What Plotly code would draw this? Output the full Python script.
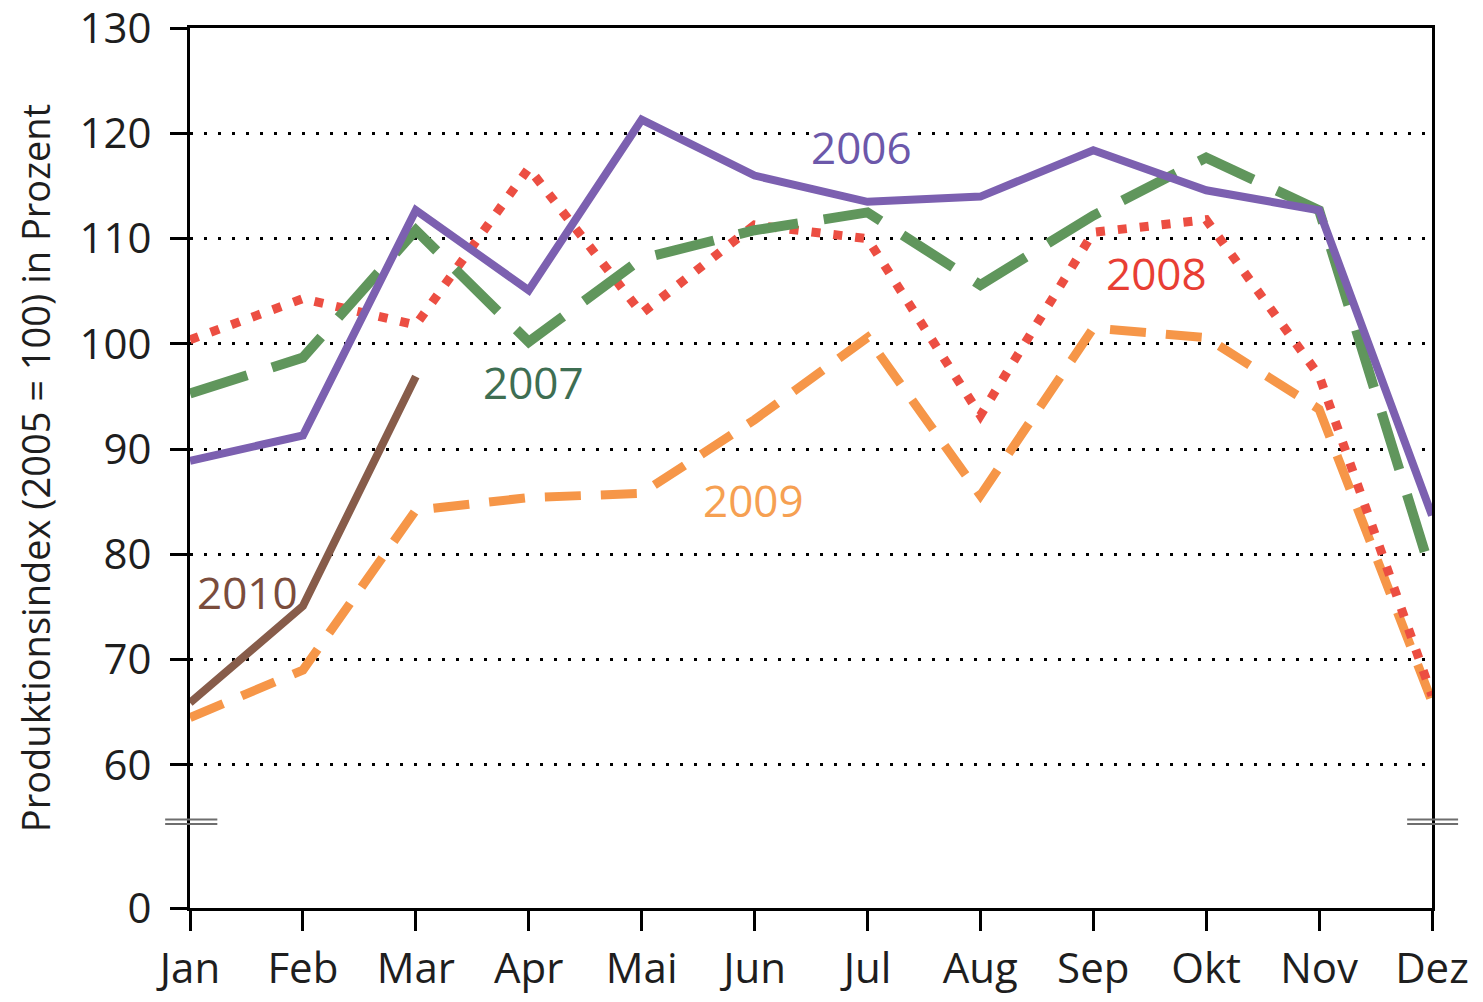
import plotly.graph_objects as go

months = ["Jan", "Feb", "Mar", "Apr", "Mai", "Jun", "Jul", "Aug", "Sep", "Okt", "Nov", "Dez"]

y2006 = [88.9, 91.3, 112.7, 105.1, 121.3, 116.0, 113.5, 114.0, 118.4, 114.6, 112.7, 83.7]
y2007 = [95.3, 98.7, 110.8, 100.2, 108.1, 110.8, 112.5, 105.6, 112.2, 117.7, 112.7, 78.0]
y2008 = [100.4, 104.3, 101.8, 116.7, 102.9, 111.3, 110.0, 93.2, 110.6, 111.8, 97.0, 66.6]
y2009 = [64.5, 69.0, 84.2, 85.4, 85.8, 92.8, 100.6, 85.6, 101.5, 100.6, 93.8, 66.0]
y2010 = [65.9, 75.1, 96.9]

# broken axis: the "0" label sits where 46.4 would be on a linear scale
zero_pos = 46.4
break_pos = 54.6
tick_vals = [zero_pos, 60, 70, 80, 90, 100, 110, 120, 130]
tick_text = ["0", "60", "70", "80", "90", "100", "110", "120", "130"]

FONT = "Open Sans"

fig = go.Figure()
fig.add_trace(go.Scatter(x=months, y=y2009, mode="lines",
                         line=dict(color="rgb(246,150,72)", width=9, dash="36px,20px")))
fig.add_trace(go.Scatter(x=months, y=y2008, mode="lines",
                         line=dict(color="rgb(236,78,66)", width=9, dash="9px,13px")))
fig.add_trace(go.Scatter(x=months, y=y2007, mode="lines",
                         line=dict(color="rgb(96,150,92)", width=10, dash="60px,26px")))
fig.add_trace(go.Scatter(x=months, y=y2006, mode="lines",
                         line=dict(color="rgb(124,96,176)", width=8)))
fig.add_trace(go.Scatter(x=months[:3], y=y2010, mode="lines",
                         line=dict(color="rgb(135,92,74)", width=8)))

labels = [("2006", 5.95, 118.7, "rgb(108,88,170)", "white"),
          ("2007", 3.04, 96.4, "rgb(62,110,82)", "rgba(0,0,0,0)"),
          ("2008", 8.56, 106.7, "rgb(232,62,52)", "rgba(0,0,0,0)"),
          ("2009", 4.99, 85.2, "rgb(246,160,82)", "rgba(0,0,0,0)"),
          ("2010", 0.51, 76.4, "rgb(122,76,60)", "rgba(0,0,0,0)")]
for txt, lx, ly, col, bg in labels:
    fig.add_annotation(x=lx, y=ly, text=txt, showarrow=False, bgcolor=bg,
                       font=dict(family=FONT, size=44, color=col))

# break marks on both vertical axes
for x0, x1 in [(-0.02, 0.022), (0.98, 1.021)]:
    for yy in [break_pos - 0.22, break_pos + 0.22]:
        fig.add_shape(type="line", xref="paper", yref="y", x0=x0, x1=x1, y0=yy, y1=yy,
                      line=dict(color="rgb(110,110,110)", width=2))

# page body has an 8px margin, so the figure is sized to fit inside it
fig.update_layout(
    width=1467, height=986,
    margin=dict(l=182, r=43, t=20, b=86),
    plot_bgcolor="white", paper_bgcolor="white",
    showlegend=False,
    font=dict(family=FONT, size=42, color="rgb(30,30,30)"),
    xaxis=dict(range=[0, 11], showline=True, linewidth=3, linecolor="black", mirror=True,
               ticks="outside", ticklen=20, tickwidth=3, tickcolor="black",
               showgrid=False, zeroline=False, ticklabelstandoff=2, automargin=False,
               ticklabeloverflow="allow",
               tickfont=dict(family=FONT, size=42)),
    yaxis=dict(range=[zero_pos, 130.02], tickvals=tick_vals, ticktext=tick_text,
               showline=True, linewidth=3, linecolor="black", mirror=True,
               ticks="outside", ticklen=17, tickwidth=3, tickcolor="black",
               showgrid=True, gridcolor="black", gridwidth=3, griddash="3px,11px",
               zeroline=False, ticklabelstandoff=10, automargin=False,
               ticklabeloverflow="allow",
               tickfont=dict(family=FONT, size=42),
               title=dict(text="Produktionsindex (2005 = 100) in Prozent", standoff=18,
                          font=dict(family=FONT, size=38))),
)

fig.write_html("out.html")
